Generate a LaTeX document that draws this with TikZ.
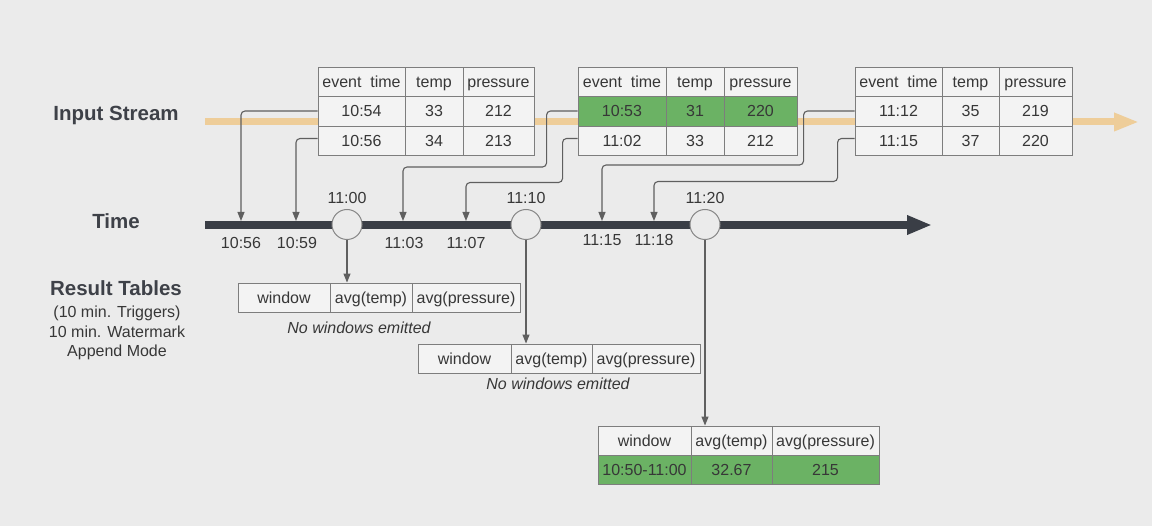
\documentclass[tikz,border=0pt]{standalone}
\usepackage{fontspec}
\setmainfont{Liberation Sans}
\usetikzlibrary{arrows.meta}
\definecolor{bg}{RGB}{235,235,235}
\definecolor{cellfill}{RGB}{243,243,243}
\definecolor{cellline}{RGB}{125,125,125}
\definecolor{green}{RGB}{107,178,100}
\definecolor{stream}{RGB}{238,205,153}
\definecolor{timeline}{RGB}{58,62,70}
\definecolor{txt}{RGB}{55,55,55}
\definecolor{title}{RGB}{62,65,72}
\definecolor{conn}{RGB}{95,95,95}
\definecolor{circline}{RGB}{135,135,135}
\newcommand{\tcell}[7][]{\node[cell,#1,minimum width={(#4)-(#2)},minimum height={(#5)-(#3)}] (#6) at ({((#2)+(#4))/2},{((#3)+(#5))/2}) {#7};}
\tikzset{
  cell/.style={draw=cellline, line width=0.9pt, fill=cellfill, inner sep=0pt, text=txt,
    font=\fontsize{16}{19}\selectfont, text height=11.4pt, text depth=0pt},
  hl/.style={fill=green},
  connector/.style={draw=conn, line width=1.1pt, rounded corners=4pt, -{Triangle[length=9pt,width=7pt]}},
  tlabel/.style={text=txt, font=\fontsize{16}{19}\selectfont, inner sep=0pt},
  tcirc/.style={circle, draw=circline, line width=1pt, fill=bg, minimum size=30pt, inner sep=0pt},
  heading/.style={text=title, font=\fontsize{20.5}{24}\selectfont\bfseries, inner sep=0pt},
  sub/.style={text=txt, font=\fontsize{16}{19.5}\selectfont, align=center, inner sep=0pt},
  note/.style={text=txt, font=\fontsize{16}{19}\selectfont\itshape, inner sep=0pt}
}
\begin{document}
\begin{tikzpicture}[x=1pt,y=-1pt]
\fill[bg] (0,0) rectangle (1152,526);
\useasboundingbox (0,0) rectangle (1152,526);

% left headings
\node[heading] (hin) at (116,115) {Input Stream};
\node[heading] (htime) at (116,221) {Time};
\node[heading] (hres) at (116,288) {Result Tables};
\node[sub, anchor=north] (hsub) at (117,306) {(10 min. Triggers)\\10 min. Watermark\\Append Mode};

% input stream
\coordinate (ss) at (205,122);
\coordinate (se) at (1139,122);
\draw[stream, line width=7pt, -{Triangle[length=25pt,width=17pt]}] (ss) -- (se);

% table 1
\tcell{318}{67}{405}{96}{t1h1}{event\ \ time}
\tcell{405}{67}{463}{96}{t1h2}{temp}
\tcell{463}{67}{534}{96}{t1h3}{pressure}
\tcell{318}{96}{405}{126}{t1a1}{10:54}
\tcell{405}{96}{463}{126}{t1a2}{33}
\tcell{463}{96}{534}{126}{t1a3}{212}
\tcell{318}{126}{405}{155}{t1b1}{10:56}
\tcell{405}{126}{463}{155}{t1b2}{34}
\tcell{463}{126}{534}{155}{t1b3}{213}
% table 2
\tcell{578}{67}{666}{96}{t2h1}{event\ \ time}
\tcell{666}{67}{724}{96}{t2h2}{temp}
\tcell{724}{67}{797}{96}{t2h3}{pressure}
\tcell[hl]{578}{96}{666}{126}{t2a1}{10:53}
\tcell[hl]{666}{96}{724}{126}{t2a2}{31}
\tcell[hl]{724}{96}{797}{126}{t2a3}{220}
\tcell{578}{126}{666}{155}{t2b1}{11:02}
\tcell{666}{126}{724}{155}{t2b2}{33}
\tcell{724}{126}{797}{155}{t2b3}{212}
% table 3
\tcell{855}{67}{942}{96}{t3h1}{event\ \ time}
\tcell{942}{67}{999}{96}{t3h2}{temp}
\tcell{999}{67}{1072}{96}{t3h3}{pressure}
\tcell{855}{96}{942}{126}{t3a1}{11:12}
\tcell{942}{96}{999}{126}{t3a2}{35}
\tcell{999}{96}{1072}{126}{t3a3}{219}
\tcell{855}{126}{942}{155}{t3b1}{11:15}
\tcell{942}{126}{999}{155}{t3b2}{37}
\tcell{999}{126}{1072}{155}{t3b3}{220}

% time line
\coordinate (ts) at (205,225);
\coordinate (te) at (932,225);
\draw[timeline, line width=8pt, -{Triangle[length=25pt,width=18pt]}] (ts) -- (te);

% arrival points on time line
\coordinate (k1) at (241,221);
\coordinate (k2) at (296,221);
\coordinate (k3) at (403,221);
\coordinate (k4) at (466,221);
\coordinate (k5) at (602,221);
\coordinate (k6) at (654,221);

\draw[connector] (t1a1.west) -| (k1);
\draw[connector] ([yshift=2pt]t1b1.west) -| (k2);
\draw[connector] (t2a1.west) -- ++(-31,0) -- ++(0,56) -| (k3);
\draw[connector] ([yshift=2pt]t2b1.west) -- ++(-15,0) -- ++(0,44) -| (k4);
\draw[connector] (t3a1.west) -- ++(-51,0) -- ++(0,54) -| (k5);
\draw[connector] ([yshift=2pt]t3b1.west) -- ++(-17,0) -- ++(0,43) -| (k6);

% time labels
\node[tlabel] (l1) at (241,243) {10:56};
\node[tlabel] (l2) at (297,243) {10:59};
\node[tlabel] (l3) at (404,243) {11:03};
\node[tlabel] (l4) at (466,243) {11:07};
\node[tlabel] (l5) at (602,240) {11:15};
\node[tlabel] (l6) at (654,240) {11:18};

% window circles
\node[tcirc] (w1) at (347,224.5) {};
\node[tcirc] (w2) at (526,224.5) {};
\node[tcirc] (w3) at (705,224.5) {};
\node[tlabel] (wl1) at (347,198) {11:00};
\node[tlabel] (wl2) at (526,198) {11:10};
\node[tlabel] (wl3) at (705,198) {11:20};

% result table 1
\tcell{238}{283}{330}{312}{r1a}{window}
\tcell{330}{283}{412}{312}{r1b}{avg(temp)}
\tcell{412}{283}{520}{312}{r1c}{avg(pressure)}
\node[note] (n1) at (359,328) {No windows emitted};
% result table 2
\tcell{418}{344}{511}{373}{r2a}{window}
\tcell{511}{344}{592}{373}{r2b}{avg(temp)}
\tcell{592}{344}{700}{373}{r2c}{avg(pressure)}
\node[note] (n2) at (558,384) {No windows emitted};
% result table 3
\tcell{598}{426}{691}{455}{r3a}{window}
\tcell{691}{426}{772}{455}{r3b}{avg(temp)}
\tcell{772}{426}{879}{455}{r3c}{avg(pressure)}
\tcell[hl]{598}{455}{691}{484}{r3d}{10:50-11:00}
\tcell[hl]{691}{455}{772}{484}{r3e}{32.67}
\tcell[hl]{772}{455}{879}{484}{r3f}{215}

% window emission arrows
\draw[connector] (w1.south) -- (w1.south |- r1b.north);
\draw[connector] (w2.south) -- (w2.south |- r2b.north);
\draw[connector] (w3.south) -- (w3.south |- r3b.north);
\end{tikzpicture}
\end{document}
